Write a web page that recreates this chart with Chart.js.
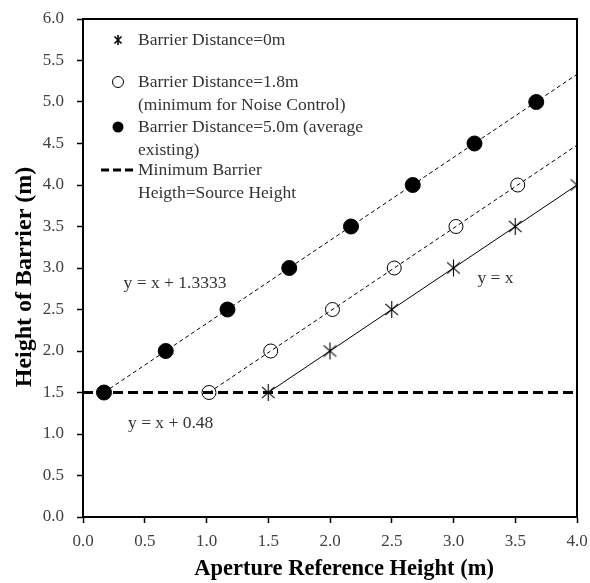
<!DOCTYPE html>
<html>
<head>
<meta charset="utf-8">
<script src="https://cdn.jsdelivr.net/npm/chart.js@4.4.1/dist/chart.umd.min.js"></script>
<style>
  html, body { margin: 0; padding: 0; background: #fff; }
  #wrap { width: 590px; height: 583px; }
</style>
</head>
<body>
<div id="wrap"><canvas id="chart"></canvas></div>
<script>
// Barrier distance = 0 m (asterisks)
const dist0X = [1.5, 2.0, 2.5, 3.0, 3.5, 4.0];
const dist0Y = [1.5, 2.0, 2.5, 3.0, 3.5, 4.0];
// Barrier distance = 1.8 m (open circles)
const dist18X = [1.02, 1.52, 2.02, 2.52, 3.02, 3.52];
const dist18Y = [1.5, 2.0, 2.5, 3.0, 3.5, 4.0];
// Barrier distance = 5.0 m (filled circles)
const dist50X = [0.17, 0.67, 1.17, 1.67, 2.17, 2.67, 3.17, 3.67];
const dist50Y = [1.5, 2.0, 2.5, 3.0, 3.5, 4.0, 4.5, 5.0];
// trend line end points
const trend0X = [1.5, 4.0];
const trend0Y = [1.5, 4.0];
const trend18X = [1.02, 4.0];
const trend18Y = [1.5, 4.48];
const trend50X = [0.17, 4.0];
const trend50Y = [1.5, 5.3333];
// minimum barrier height = source height
const minHeightX = [0, 4.0];
const minHeightY = [1.5, 1.5];

const legendLabels = [
    ['Barrier Distance=0m'],
    ['Barrier Distance=1.8m', '(minimum for Noise Control)'],
    ['Barrier Distance=5.0m (average', 'existing)'],
    ['Minimum Barrier', 'Heigth=Source Height']
];
const equations = [
    { text: 'y = x + 1.3333', x: 0.745, y: 2.82 },
    { text: 'y = x', x: 3.34, y: 2.87 },
    { text: 'y = x + 0.48', x: 0.71, y: 1.13 }
];

const serif = '"Liberation Serif", "Times New Roman", serif';

function toPoints(xs, ys) {
    return xs.map((x, i) => ({ x: x, y: ys[i] }));
}

// asterisk marker: an X with a vertical stroke
function makeAsterisk(size, lw, spread) {
    const c = document.createElement('canvas');
    c.width = size; c.height = size;
    const g = c.getContext('2d');
    const r = size / 2 - 1;
    g.strokeStyle = '#000';
    g.lineWidth = lw;
    g.translate(size / 2, size / 2);
    [90, spread, 180 - spread].forEach(a => {
        const rad = a * Math.PI / 180;
        g.beginPath();
        g.moveTo(-r * Math.cos(rad), -r * Math.sin(rad));
        g.lineTo(r * Math.cos(rad), r * Math.sin(rad));
        g.stroke();
    });
    return c;
}
const asterisk = makeAsterisk(19, 1.1, 42);
const asteriskSmall = makeAsterisk(12, 1.6, 45);

const framePlugin = {
    id: 'frame',
    afterDraw(chart) {
        const { ctx, chartArea: a } = chart;
        ctx.save();
        ctx.strokeStyle = '#000';
        ctx.lineWidth = 2;
        ctx.strokeRect(a.left, a.top, a.right - a.left, a.bottom - a.top);
        ctx.restore();
    }
};

const notesPlugin = {
    id: 'notes',
    afterDraw(chart) {
        const ctx = chart.ctx;
        const xs = chart.scales.x, ys = chart.scales.y;
        ctx.save();
        ctx.font = '17.5px ' + serif;
        ctx.fillStyle = '#333';
        ctx.textAlign = 'center';
        ctx.textBaseline = 'middle';
        equations.forEach(e => {
            ctx.fillText(e.text, xs.getPixelForValue(e.x), ys.getPixelForValue(e.y));
        });

        // legend box inside the plot
        ctx.textAlign = 'left';
        const textX = 138, markX = 118;
        const rows = [40, 82, 127, 170];
        const lineGap = 23;
        legendLabels.forEach((lines, i) => {
            lines.forEach((t, j) => ctx.fillText(t, textX, rows[i] + j * lineGap));
        });
        ctx.drawImage(asteriskSmall, markX - 6, rows[0] - 6);
        ctx.strokeStyle = '#000';
        ctx.fillStyle = '#000';
        ctx.lineWidth = 1;
        ctx.beginPath();
        ctx.arc(markX, rows[1], 5.5, 0, Math.PI * 2);
        ctx.stroke();
        ctx.beginPath();
        ctx.arc(markX, rows[2], 5.5, 0, Math.PI * 2);
        ctx.fill();
        ctx.lineWidth = 3;
        ctx.setLineDash([8, 4]);
        ctx.beginPath();
        ctx.moveTo(101, rows[3]);
        ctx.lineTo(135, rows[3]);
        ctx.stroke();
        ctx.restore();
    }
};

const tickFont = { family: serif, size: 17 };

new Chart(document.getElementById('chart').getContext('2d'), {
    type: 'scatter',
    data: {
        datasets: [
            {
                label: 'Barrier Distance=0m',
                data: toPoints(dist0X, dist0Y),
                pointStyle: asterisk,
                pointRadius: 9,
                showLine: false
            },
            {
                label: 'Barrier Distance=1.8m (minimum for Noise Control)',
                data: toPoints(dist18X, dist18Y),
                pointStyle: 'circle',
                pointRadius: 7,
                backgroundColor: 'rgba(255,255,255,0)',
                borderColor: '#000',
                pointBorderWidth: 1,
                showLine: false
            },
            {
                label: 'Barrier Distance=5.0m (average existing)',
                data: toPoints(dist50X, dist50Y),
                pointStyle: 'circle',
                pointRadius: 7.5,
                backgroundColor: '#000',
                borderColor: '#000',
                showLine: false
            },
            {
                label: 'y = x',
                data: toPoints(trend0X, trend0Y),
                showLine: true,
                borderColor: '#000',
                borderWidth: 1,
                pointRadius: 0
            },
            {
                label: 'y = x + 0.48',
                data: toPoints(trend18X, trend18Y),
                showLine: true,
                borderColor: '#000',
                borderWidth: 1,
                borderDash: [4, 3],
                pointRadius: 0
            },
            {
                label: 'y = x + 1.3333',
                data: toPoints(trend50X, trend50Y),
                showLine: true,
                borderColor: '#000',
                borderWidth: 1,
                borderDash: [4, 3],
                pointRadius: 0
            },
            {
                label: 'Minimum Barrier Heigth=Source Height',
                data: toPoints(minHeightX, minHeightY),
                showLine: true,
                borderColor: '#000',
                borderWidth: 3,
                borderDash: [10, 5],
                pointRadius: 0
            }
        ]
    },
    options: {
        responsive: true,
        maintainAspectRatio: false,
        animation: false,
        layout: { padding: { top: 19, right: 13, left: 0, bottom: 0 } },
        plugins: {
            legend: { display: false },
            tooltip: { enabled: false }
        },
        scales: {
            x: {
                type: 'linear',
                min: 0,
                max: 4,
                ticks: {
                    stepSize: 0.5,
                    callback: v => v.toFixed(1),
                    font: tickFont,
                    color: '#404040',
                    padding: 8,
                    maxRotation: 0
                },
                grid: { drawOnChartArea: false, tickLength: 6, color: '#000', tickWidth: 1.5 },
                border: { color: '#000', width: 2 },
                title: {
                    display: true,
                    text: '     Aperture Reference Height (m)',
                    font: { family: serif, size: 22.5, weight: 'bold' },
                    color: '#000',
                    padding: 0
                },
                afterFit: s => { s.height = 66; s.paddingLeft = 0; s.paddingRight = 0; }
            },
            y: {
                type: 'linear',
                min: 0,
                max: 6,
                ticks: {
                    stepSize: 0.5,
                    callback: v => v.toFixed(1),
                    font: tickFont,
                    color: '#404040',
                    padding: 13
                },
                grid: { drawOnChartArea: false, tickLength: 6, color: '#000', tickWidth: 1.5 },
                border: { color: '#000', width: 2 },
                title: {
                    display: true,
                    text: 'Height of Barrier (m)   ',
                    font: { family: serif, size: 24, weight: 'bold' },
                    color: '#000',
                    padding: { top: 10, bottom: 0 }
                },
                afterFit: s => { s.width = 83; s.paddingTop = 0; s.paddingBottom = 0; }
            }
        }
    },
    plugins: [framePlugin, notesPlugin]
});
</script>
</body>
</html>
